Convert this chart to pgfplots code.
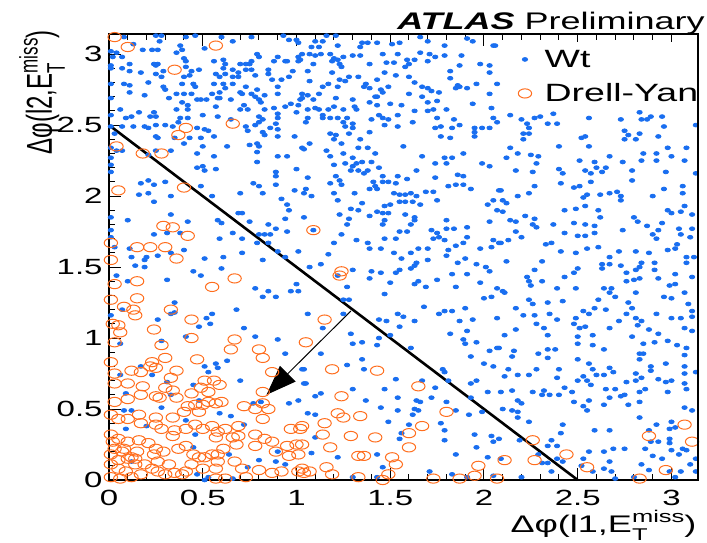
\documentclass[border=0pt]{standalone}
\usepackage{pgfplots}
\pgfplotsset{compat=1.18}
\usetikzlibrary{arrows.meta}
\usepackage{fontspec}
\setmainfont{Liberation Sans}[FakeStretch=1.5]
\newfontfamily\plainsans{Liberation Sans}
\definecolor{wtblue}{RGB}{25,110,240}
\definecolor{dyorange}{RGB}{255,110,30}
\newcommand{\etmiss}{E\rlap{\raisebox{-0.36em}{\fontsize{8.5}{9}\selectfont T}}\raisebox{0.4em}{\fontsize{8.5}{9}\selectfont miss}}
\begin{document}
\begin{tikzpicture}
\path[use as bounding box] (-54.5pt,-31pt) rectangle (299pt,240pt);
\begin{axis}[
  scale only axis, width=294.5pt, height=223pt,
  xmin=0, xmax=3.1416, ymin=0, ymax=3.1416,
  axis line style={line width=0.8pt},
  xtick={0,0.5,1,1.5,2,2.5,3}, ytick={0,0.5,1,1.5,2,2.5,3},
  minor tick num=4,
  tick align=inside,
  xtick pos=both, ytick pos=left,
  major tick length=6pt, minor tick length=3pt,
  every tick/.style={black, line width=0.5pt},
  /pgf/number format/assume math mode=true,
  ticklabel style={font=\fontsize{11}{11}\selectfont},
  xticklabel style={inner sep=0pt, anchor=north, yshift=-5pt},
  yticklabel style={inner sep=0pt, anchor=east, xshift=-3pt},
  xlabel={Δφ(l1,\etmiss)},
  ylabel={Δφ(l2,\etmiss)},
  xlabel style={font=\fontsize{12}{12}\selectfont, at={(axis description cs:0.998,-0.1166)}, anchor=base east, inner sep=0pt},
  ylabel style={font=\plainsans\fontsize{12}{12}\selectfont, at={(axis description cs:-0.0968,1.009)}, anchor=base east, inner sep=0pt, rotate=-90, xscale=1.5, rotate=90},
  legend style={at={(axis description cs:0.6942,0.982)}, anchor=north west, fill=white, draw=none, font=\fontsize{12.5}{12.5}\selectfont, inner xsep=0pt, inner ysep=0pt, row sep=0pt, nodes={inner ysep=2pt, inner xsep=6.5pt, text height=10.5pt, text depth=2.5pt}},
  legend cell align=left,
  clip=false,
]
\addplot[only marks, mark=*, mark size=0.95pt, color=wtblue, mark options={xscale=1.4, draw=wtblue, fill=wtblue}] coordinates {
(0.08,3.12) (0.25,3.13) (0.28,3.13) (0.27,3.09) (0.41,3.12) (0.46,3.13) (0.60,3.12) (0.66,3.09) (0.76,3.12) (0.93,3.13) (0.96,3.10) (1.00,3.10) (1.01,3.08) (0.13,3.07) (0.01,3.02) (0.04,3.01) (0.18,3.03) (0.23,3.03) (0.26,3.03) (0.38,3.06) (0.39,3.03) (0.36,3.01) (0.51,3.04) (0.79,3.00) (0.80,2.98) (0.90,2.98) (1.03,3.00) (0.02,2.98) (0.07,2.98)
(0.11,2.93) (0.24,2.93) (0.25,2.92) (0.26,2.93) (0.41,2.95) (0.40,2.97) (0.56,2.95) (0.61,2.96) (0.62,2.93) (0.70,2.93) (0.73,2.93) (0.75,2.93) (0.76,2.95) (0.88,2.95) (0.94,2.95) (0.95,2.95) (1.01,2.95) (1.01,2.98) (0.01,2.92) (0.01,2.90) (0.07,2.90) (0.11,2.88) (0.17,2.87) (0.25,2.86) (0.29,2.88) (0.41,2.91) (0.44,2.88) (0.48,2.89) (0.57,2.86) (0.61,2.90) (0.66,2.89) (0.69,2.87) (0.73,2.89) (0.76,2.89) (0.85,2.89) (0.98,2.88) (0.85,2.86)
(0.40,2.84) (0.43,2.85) (0.28,2.84) (0.59,2.84) (0.62,2.86) (0.66,2.84) (0.69,2.84) (0.78,2.85) (0.87,2.82) (0.92,2.82) (0.96,2.84) (0.01,2.79) (0.08,2.79) (0.11,2.78) (0.21,2.80) (0.29,2.77) (0.39,2.79) (0.45,2.79) (0.46,2.77) (0.56,2.79) (0.61,2.79) (0.62,2.76) (0.59,2.73) (0.66,2.79) (0.70,2.73) (0.73,2.77) (0.79,2.75) (0.90,2.77) (0.11,2.73) (0.30,2.75) (0.36,2.72) (0.40,2.72) (0.44,2.72) (0.55,2.72) (0.59,2.69) (0.71,2.72) (0.76,2.72) (0.78,2.70) (0.83,2.71) (0.90,2.72) (1.03,2.72)
(0.01,2.69) (0.19,2.71) (0.32,2.69) (0.39,2.66) (0.47,2.68) (0.49,2.68) (0.52,2.68) (0.58,2.69) (0.65,2.68) (0.80,2.68) (1.03,2.69) (0.97,2.65) (0.42,2.64) (0.57,2.63) (0.42,2.61) (0.72,2.64) (0.81,2.66) (0.94,2.63) (1.01,2.64) (0.16,2.59) (0.24,2.59) (0.06,2.61) (0.36,2.61) (0.70,2.61) (0.74,2.61) (0.83,2.61) (0.88,2.62) (0.01,2.57) (0.09,2.55) (0.12,2.56) (0.22,2.56) (0.25,2.56) (0.42,2.55) (0.38,2.55) (0.37,2.52) (0.50,2.57) (0.58,2.56) (0.65,2.54) (0.80,2.56) (0.82,2.54) (0.90,2.58) (0.90,2.55) (1.00,2.59) (0.80,2.52)
(0.01,2.49) (0.07,2.49) (0.13,2.49) (0.19,2.49) (0.21,2.48) (0.25,2.50) (0.30,2.50) (0.34,2.49) (0.47,2.48) (0.51,2.47) (0.53,2.46) (0.73,2.49) (0.74,2.46) (0.82,2.45) (0.86,2.48) (0.90,2.47) (0.78,2.50) (0.89,2.51) (0.03,2.44) (0.25,2.42) (0.26,2.41) (0.35,2.41) (0.43,2.41) (0.49,2.41) (0.56,2.42) (0.83,2.43) (0.90,2.42) (0.99,2.42) (0.40,2.37) (0.75,2.36) (0.79,2.37) (0.80,2.35) (1.03,2.34) (0.01,2.34) (0.04,2.32) (0.07,2.32) (0.25,2.32) (0.33,2.32) (0.50,2.35) (0.63,2.35) (0.79,2.31)
(0.01,2.27) (0.21,2.29) (0.47,2.30) (0.56,2.28) (0.90,2.28) (0.95,2.28) (0.01,2.22) (0.01,2.17) (0.47,2.20) (0.50,2.21) (0.51,2.18) (0.57,2.19) (0.79,2.24) (0.89,2.17) (1.00,2.19) (0.89,2.14) (0.17,2.09) (0.21,2.11) (0.24,2.08) (0.30,2.10) (0.49,2.07) (0.77,2.09) (0.80,2.07) (0.89,2.08) (0.16,2.01) (0.21,2.02) (0.33,2.00) (0.55,2.00) (0.70,2.02) (0.82,2.02) (0.99,2.04) (0.24,1.96) (0.92,1.98) (0.95,1.94)
(0.01,1.85) (0.10,1.83) (0.33,1.87) (0.42,1.82) (0.58,1.83) (0.60,1.81) (0.69,1.88) (0.71,1.88) (0.75,1.82) (0.85,1.80) (0.86,1.73) (0.94,1.84) (0.96,1.90) (1.04,1.85) (0.24,1.73) (0.31,1.74) (0.38,1.74) (0.59,1.70) (0.66,1.74) (0.71,1.70) (0.80,1.73) (0.83,1.73) (0.89,1.77) (0.95,1.75) (0.01,1.76) (0.01,1.71) (0.03,1.64) (0.11,1.63) (0.20,1.57) (0.26,1.58) (0.33,1.60) (0.40,1.62) (0.51,1.56) (0.61,1.57) (0.71,1.60) (0.79,1.67) (0.85,1.67) (0.90,1.61) (0.94,1.57) (1.01,1.61)
(1.16,3.13) (1.21,3.13) (1.10,3.09) (1.14,3.09) (1.22,3.06) (1.35,3.08) (1.38,3.08) (1.43,3.08) (1.51,3.07) (1.55,3.08) (1.66,3.12) (1.70,3.09) (1.79,3.06) (1.91,3.11) (1.94,3.09) (2.05,3.06) (1.08,3.05) (1.12,3.05) (1.34,3.05)
(1.07,3.00) (1.10,2.99) (1.13,3.00) (1.18,3.00) (1.20,2.97) (1.22,2.96) (1.25,2.98) (1.30,2.99) (1.34,2.99) (1.19,2.95) (1.23,2.93) (1.24,2.91) (1.02,2.96) (1.09,2.93) (1.46,3.00) (1.54,3.00) (1.59,2.96) (1.63,2.96) (1.60,2.93) (1.66,3.01) (1.71,3.00) (1.74,2.98) (1.70,2.95) (1.79,2.99) (1.88,2.99) (1.98,2.93) (2.03,2.92) (2.03,2.87) (1.39,2.93) (1.48,2.94) (1.52,2.94) (1.58,2.91) (1.82,2.88) (1.87,2.92) (1.06,2.88) (1.19,2.87) (1.47,2.87)
(1.28,2.84) (1.33,2.84) (1.23,2.82) (1.26,2.81) (1.37,2.79) (1.43,2.82) (1.53,2.85) (1.60,2.84) (1.63,2.80) (1.82,2.83) (1.86,2.78) (1.87,2.77) (1.91,2.76) (1.96,2.79) (2.07,2.79) (1.07,2.81) (1.14,2.77) (1.17,2.79) (1.22,2.77) (1.36,2.77) (1.39,2.76) (1.45,2.75) (1.49,2.77) (1.67,2.77) (1.70,2.76) (1.72,2.74) (1.76,2.73) (1.85,2.76) (1.60,2.72) (1.67,2.70) (1.12,2.72) (1.06,2.71) (1.42,2.70) (1.46,2.73) (2.03,2.72)
(1.02,2.68) (1.09,2.68) (1.21,2.69) (1.30,2.68) (1.39,2.66) (1.43,2.70) (1.50,2.65) (1.56,2.64) (1.43,2.64) (1.75,2.67) (1.70,2.66) (1.94,2.65) (1.06,2.61) (1.10,2.62) (1.12,2.61) (1.14,2.57) (1.17,2.61) (1.20,2.63) (1.25,2.61) (1.32,2.61) (1.27,2.55) (1.31,2.63) (1.44,2.57) (1.46,2.55) (1.49,2.54) (1.54,2.57) (1.63,2.60) (1.70,2.60) (1.73,2.61) (1.80,2.61) (1.84,2.54) (2.04,2.62) (1.06,2.55) (1.05,2.52) (1.14,2.55) (1.18,2.55) (1.22,2.55) (1.25,2.52) (1.40,2.54) (1.47,2.50) (1.54,2.49) (1.62,2.52) (1.75,2.55) (1.87,2.50) (2.05,2.55)
(1.26,2.49) (1.30,2.51) (1.30,2.48) (1.74,2.48) (1.77,2.49) (1.83,2.48) (1.95,2.48) (1.99,2.48) (2.03,2.48) (1.18,2.44) (1.21,2.43) (1.28,2.44) (1.39,2.45) (1.77,2.42) (1.82,2.41) (1.95,2.45) (1.95,2.42) (1.07,2.37) (1.04,2.33) (1.20,2.40) (1.24,2.37) (1.34,2.40) (1.33,2.34) (1.38,2.34) (1.57,2.35) (1.16,2.32)
(1.18,2.28) (1.25,2.30) (1.30,2.27) (1.42,2.30) (1.67,2.28) (1.79,2.27) (1.83,2.27) (1.89,2.30) (1.20,2.22) (1.26,2.23) (1.32,2.23) (1.35,2.24) (1.40,2.24) (1.30,2.21) (1.33,2.18) (1.29,2.18) (1.74,2.23) (1.80,2.23) (1.99,2.23) (2.03,2.21) (1.64,2.18) (1.36,2.16) (1.38,2.18) (1.44,2.20) (1.21,2.14) (1.23,2.11) (1.41,2.10) (1.46,2.14) (1.54,2.14) (1.59,2.12) (1.74,2.13) (1.86,2.15) (1.89,2.14) (1.06,2.13) (1.46,2.10) (1.49,2.10) (1.53,2.09)
(1.05,2.05) (1.18,2.09) (1.42,2.07) (1.39,2.05) (1.43,2.05) (1.24,2.08) (1.08,2.00) (1.04,2.02) (1.20,2.02) (1.31,2.02) (1.22,1.97) (1.35,1.95) (1.52,2.02) (1.55,2.01) (1.58,2.01) (1.61,2.02) (1.64,2.00) (1.69,2.03) (1.73,2.03) (1.81,2.07) (1.85,2.08) (1.89,2.08) (1.93,2.05) (2.08,2.04) (1.55,1.96) (1.58,1.96) (1.62,1.96) (1.47,1.93) (1.50,1.94) (1.66,1.94) (1.75,1.97) (2.02,1.94) (2.05,1.97)
(1.29,1.91) (1.33,1.90) (1.23,1.87) (1.39,1.86) (1.43,1.89) (1.46,1.88) (1.49,1.88) (1.58,1.87) (1.63,1.85) (1.63,1.83) (1.61,1.80) (1.47,1.83) (1.46,1.80) (1.27,1.80) (1.28,1.84) (1.80,1.83) (2.03,1.82) (2.07,1.90) (1.09,1.76) (1.24,1.73) (1.55,1.75) (1.59,1.75) (1.72,1.76) (1.75,1.74) (1.80,1.77) (1.84,1.77) (1.91,1.78) (1.76,1.71)
(1.20,1.67) (1.32,1.69) (1.38,1.67) (1.47,1.70) (1.53,1.70) (1.73,1.70) (1.79,1.69) (1.89,1.67) (1.91,1.71) (2.05,1.69) (2.08,1.67) (1.39,1.63) (1.45,1.63) (1.65,1.63) (1.70,1.63) (1.81,1.62) (1.85,1.65) (1.98,1.63) (2.04,1.64) (1.17,1.59) (1.52,1.60) (1.61,1.60) (1.56,1.56) (1.70,1.55) (1.80,1.58) (1.90,1.56)
(2.06,3.06) (2.07,2.52) (2.14,2.57) (2.20,2.54) (2.23,2.51) (2.24,2.48) (2.27,2.55) (2.30,2.56) (2.34,2.51) (2.37,2.58) (2.39,2.51) (2.56,2.55) (2.73,2.54) (2.83,2.59) (2.84,2.54) (2.87,2.54) (2.89,2.56) (2.95,2.56) (2.96,2.49) (3.13,2.50)
(2.21,2.44) (2.24,2.44) (2.21,2.40) (2.52,2.41) (2.54,2.42) (2.75,2.46) (2.75,2.40) (2.77,2.43) (2.81,2.40) (2.83,2.44) (2.93,2.42) (2.14,2.34) (2.40,2.35) (2.56,2.35) (3.08,2.34) (2.98,2.34)
(2.12,2.27) (2.18,2.30) (2.25,2.29) (2.29,2.28) (2.28,2.23) (2.51,2.25) (2.59,2.24) (2.67,2.28) (2.74,2.24) (2.85,2.30) (2.92,2.30) (2.92,2.25) (3.00,2.28) (2.84,2.25) (3.07,2.25)
(2.17,2.18) (2.26,2.17) (2.40,2.19) (2.42,2.16) (2.54,2.18) (2.57,2.16) (2.60,2.20) (2.65,2.20) (2.63,2.17) (2.79,2.18) (2.97,2.17) (3.13,2.16)
(2.41,2.09) (2.27,2.07) (2.09,2.04) (2.24,2.02) (2.18,2.00) (2.48,2.06) (2.51,2.07) (2.57,2.10) (2.55,2.01) (2.62,2.01) (2.67,2.02) (2.71,2.03) (2.73,2.00) (2.79,2.11) (2.90,2.00) (2.96,2.05) (3.06,2.07) (3.06,2.02)
(2.10,1.97) (2.12,1.95) (2.53,1.99) (2.73,1.97) (2.43,1.90) (2.49,1.91) (2.54,1.93) (2.61,1.90) (2.62,1.85) (2.98,1.90) (3.00,1.88) (3.05,1.89) (3.07,1.93) (3.11,1.87) (2.80,1.85) (2.10,1.89) (2.27,1.84) (2.22,1.86) (2.14,1.83) (2.17,1.82) (2.26,1.80) (2.28,1.78) (2.37,1.80) (2.48,1.81) (2.54,1.80) (2.59,1.79) (2.82,1.82) (2.87,1.79) (2.95,1.81) (3.04,1.77) (3.11,1.77)
(2.17,1.75) (2.20,1.71) (2.43,1.74) (2.50,1.72) (2.54,1.72) (2.59,1.74) (2.74,1.76) (2.90,1.73) (2.93,1.76) (2.92,1.70) (3.05,1.73) (3.10,1.71) (2.09,1.67) (2.13,1.69) (2.33,1.66) (2.36,1.67) (2.41,1.61) (2.49,1.60) (2.55,1.63) (2.61,1.64) (2.67,1.57) (2.72,1.61) (2.81,1.61) (2.88,1.60) (2.98,1.62) (3.02,1.63) (3.03,1.66) (3.08,1.57)
(0.12,1.57) (0.19,1.55) (0.60,1.49) (0.82,1.55) (0.14,1.51) (0.19,1.50) (0.04,1.44) (0.10,1.40) (0.31,1.41) (0.45,1.47) (0.49,1.44) (0.78,1.35) (0.82,1.29) (0.85,1.33) (0.89,1.29) (0.97,1.33) (1.00,1.38) (1.01,1.33) (0.35,1.25) (0.07,1.20) (0.01,1.16) (0.33,1.17) (0.35,1.18) (0.26,1.13) (0.52,1.14) (0.55,1.17) (0.54,1.10) (0.48,1.08) (0.68,1.20) (0.72,1.07) (0.78,1.01) (0.90,0.99) (0.41,1.01) (0.28,0.98) (0.06,0.96)
(0.94,0.89) (0.63,0.84) (0.51,0.80) (0.57,0.82) (0.58,0.79) (0.53,0.76) (0.17,0.80) (0.23,0.74) (0.06,0.74) (0.70,0.70) (0.31,0.69) (0.45,0.67) (0.33,0.60) (0.09,0.61) (0.48,0.56) (0.77,0.54) (0.81,0.55) (0.96,0.54) (1.01,0.56) (1.04,0.68) (1.03,0.78) (0.08,0.49) (0.12,0.49) (0.28,0.51) (0.59,0.47) (0.65,0.45) (0.41,0.42) (0.72,0.39) (0.20,0.38) (0.09,0.36) (0.46,0.32) (0.45,0.23) (0.64,0.18) (0.90,0.20) (0.12,0.13) (0.80,0.14) (0.74,0.09) (0.89,0.13) (0.47,0.04) (0.51,0.00) (0.66,0.01) (0.94,0.11) (0.53,0.02)
(1.07,1.50) (1.13,1.52) (1.30,1.48) (1.40,1.47) (1.45,1.46) (1.53,1.46) (1.55,1.48) (1.61,1.49) (1.63,1.51) (1.64,1.53) (1.86,1.53) (1.96,1.52) (2.01,1.50) (1.22,1.44) (1.39,1.42) (1.50,1.39) (1.63,1.38) (1.65,1.40) (1.69,1.36) (1.75,1.41) (1.83,1.45) (1.85,1.36) (1.91,1.45) (1.98,1.39) (2.03,1.47) (1.27,1.36) (1.25,1.27) (1.28,1.27) (1.47,1.31) (1.68,1.22) (1.76,1.17) (1.79,1.19) (1.83,1.19) (1.90,1.21) (2.00,1.28) (2.04,1.29)
(1.06,1.17) (1.25,1.17) (1.44,1.13) (1.48,1.12) (1.54,1.17) (1.57,1.15) (1.63,1.12) (1.55,1.08) (1.87,1.12) (1.94,1.13) (1.14,1.07) (1.29,1.03) (1.30,0.96) (1.35,0.97) (1.43,0.95) (1.44,1.00) (1.50,1.02) (1.61,0.93) (1.82,1.03) (1.89,0.99) (1.90,0.96) (1.91,1.05) (1.96,0.97) (2.03,0.91) (2.07,0.93) (1.13,0.89) (1.04,0.78) (1.27,0.81) (1.35,0.85) (1.36,0.78) (1.93,0.87) (2.00,0.82) (2.05,0.80) (1.78,0.78) (1.79,0.76) (1.53,0.71)
(1.05,0.68) (1.30,0.64) (1.47,0.64) (1.67,0.70) (1.74,0.65) (1.81,0.70) (1.93,0.68) (1.96,0.70) (2.02,0.62) (2.09,0.62) (1.10,0.59) (1.13,0.61) (1.37,0.56) (1.54,0.58) (1.64,0.56) (1.66,0.55) (1.72,0.58) (1.80,0.55) (1.93,0.58) (1.06,0.47) (1.10,0.46) (1.45,0.51) (1.54,0.49) (1.63,0.50) (1.65,0.49) (1.62,0.46) (1.85,0.49) (1.92,0.46) (1.99,0.48) (1.49,0.41) (1.60,0.39) (1.77,0.40) (1.79,0.35) (1.95,0.32) (2.04,0.31) (2.05,0.27)
(1.10,0.30) (1.55,0.29) (1.56,0.33) (1.79,0.28) (1.96,0.23) (1.08,0.19) (1.22,0.16) (1.43,0.18) (1.85,0.18) (2.02,0.16) (2.09,0.15) (1.46,0.09) (1.71,0.06) (1.30,0.02) (1.43,0.02) (1.83,0.04) (1.91,0.02) (2.05,0.03)
(2.12,1.54) (2.31,1.54) (2.50,1.49) (2.48,1.46) (2.63,1.52) (2.67,1.52) (2.63,1.49) (2.73,1.51) (2.76,1.46) (2.81,1.48) (2.83,1.50) (2.84,1.53) (2.91,1.53) (2.91,1.48) (2.93,1.42) (3.08,1.53) (3.12,1.57) (2.27,1.48) (2.23,1.43) (2.24,1.40) (2.25,1.37) (2.31,1.40) (2.43,1.43) (2.07,1.35) (2.10,1.33) (2.11,1.32) (2.39,1.35) (2.49,1.35) (2.64,1.35) (2.68,1.35) (2.67,1.32) (2.70,1.29) (2.76,1.40) (2.80,1.41) (2.83,1.42) (2.81,1.32) (3.02,1.45) (3.02,1.38) (2.99,1.37) (3.07,1.32) (3.11,1.43) (3.09,1.24) (3.11,1.19) (3.11,1.15) (2.96,1.29) (3.00,1.28)
(2.24,1.27) (2.26,1.24) (2.34,1.25) (2.42,1.26) (2.17,1.21) (2.07,1.14) (2.21,1.16) (2.27,1.16) (2.35,1.17) (2.39,1.13) (2.28,1.10) (2.32,1.07) (2.17,1.06) (2.49,1.14) (2.48,1.10) (2.51,1.07) (2.54,1.08) (2.53,1.19) (2.56,1.17) (2.59,1.21) (2.61,1.27) (2.65,1.20) (2.72,1.12) (2.76,1.17) (2.77,1.25) (2.79,1.21) (2.81,1.14) (2.82,1.09) (2.84,1.12) (2.88,1.06) (2.92,1.17) (2.93,1.03) (3.00,1.14) (3.05,1.14) (3.07,1.07)
(2.11,1.02) (2.34,1.02) (2.50,1.01) (2.58,1.02) (2.67,1.07) (2.79,1.01) (2.85,0.96) (2.85,0.89) (2.91,0.97) (2.98,0.98) (3.03,0.95) (3.08,0.93) (3.07,0.88) (3.11,1.05) (2.08,0.93) (2.16,0.91) (2.34,0.92) (2.38,0.92) (2.50,0.96) (2.58,0.95) (2.29,0.89) (2.15,0.87) (2.34,0.86) (2.50,0.85) (2.56,0.82) (2.58,0.78) (2.64,0.92) (2.67,0.79) (2.83,0.89) (2.83,0.85) (2.89,0.80) (2.97,0.82) (3.07,0.80)
(2.13,0.78) (2.11,0.73) (2.18,0.74) (2.24,0.74) (2.28,0.78) (2.40,0.78) (2.39,0.72) (2.53,0.73) (2.55,0.70) (2.57,0.67) (2.50,0.70) (2.60,0.74) (2.64,0.74) (2.69,0.76) (2.76,0.69) (2.81,0.75) (2.81,0.70) (2.84,0.72) (2.89,0.77) (2.93,0.71) (2.97,0.69) (3.00,0.70) (3.07,0.75) (3.07,0.68) (3.13,0.76) (3.08,0.64)
(2.15,0.63) (2.26,0.62) (2.31,0.60) (2.32,0.63) (2.35,0.60) (2.40,0.60) (2.43,0.65) (2.47,0.62) (2.65,0.64) (2.67,0.58) (2.70,0.64) (2.73,0.59) (2.75,0.60) (2.83,0.62) (2.86,0.64) (2.98,0.62) (2.18,0.56) (2.20,0.54) (2.10,0.50) (2.15,0.49) (2.18,0.48) (2.18,0.44) (2.24,0.41) (2.48,0.55) (2.53,0.52) (2.56,0.56) (2.55,0.49) (2.64,0.53) (2.77,0.53) (2.83,0.55) (2.83,0.44) (2.92,0.39) (2.99,0.36) (3.00,0.41) (3.02,0.37) (3.07,0.51) (3.11,0.49)
(2.42,0.39) (2.59,0.35) (2.67,0.35) (2.88,0.35) (2.89,0.27) (2.93,0.27) (2.99,0.29) (2.99,0.26) (3.00,0.21) (3.06,0.22) (3.04,0.18) (3.13,0.15) (3.08,0.21) (2.95,0.15) (2.90,0.17) (2.86,0.22) (2.84,0.11) (2.88,0.07) (2.75,0.22) (2.69,0.22) (2.64,0.20) (2.67,0.13) (2.64,0.08) (2.56,0.20) (2.53,0.15) (2.52,0.10) (2.58,0.06) (2.39,0.15) (2.42,0.13) (2.34,0.12) (2.31,0.12) (2.34,0.24) (2.36,0.28) (2.39,0.24) (2.41,0.33) (2.36,0.06) (2.19,0.28) (2.08,0.29) (2.29,0.18) (3.05,0.06) (3.10,0.11) (2.99,0.06) (3.02,0.02) (2.68,0.06) (2.20,0.02) (2.70,0.01) (2.80,0.02) (3.13,0.06)
};
\addlegendentry{\fontsize{12.5}{12.5}\selectfont Wt}
\addplot[only marks, mark=o, mark size=2.3pt, color=dyorange, mark options={xscale=1.45, line width=0.5pt}] coordinates {
(0.03,3.12) (0.10,3.05) (0.57,3.06) (0.35,2.89) (0.66,2.51) (0.41,2.48) (0.37,2.43) (0.04,2.35) (0.18,2.30) (0.28,2.30) (0.40,2.06) (0.05,2.04) (0.29,1.79) (0.34,1.78) (0.42,1.72) (0.01,1.67) (0.15,1.64) (0.22,1.64) (0.30,1.64) (0.36,1.56) (0.01,1.55) (1.09,1.76)
(0.67,1.42) (0.55,1.36) (0.15,1.40) (0.03,1.38) (0.01,1.27) (0.15,1.28) (0.08,1.22) (0.13,1.20) (0.14,1.16) (0.33,1.20) (0.44,1.13) (0.24,1.06) (0.05,1.09) (0.06,1.04) (0.02,1.10) (0.44,1.00) (0.67,0.99) (0.65,0.92) (0.03,0.97) (0.28,0.95) (0.47,0.85) (0.30,0.86) (0.23,0.83) (0.22,0.80) (0.25,0.79) (0.17,0.76) (0.12,0.77) (0.01,0.83) (0.03,0.75) (0.36,0.77) (0.33,0.72) (0.51,0.70) (0.59,0.67) (0.56,0.70) (0.82,0.86) (0.87,0.76) (0.80,0.92)
(0.03,0.68) (0.10,0.68) (0.18,0.66) (0.17,0.60) (0.25,0.59) (0.27,0.58) (0.36,0.58) (0.30,0.65) (0.34,0.63) (0.44,0.61) (0.49,0.65) (0.53,0.62) (0.60,0.55) (0.57,0.54) (0.53,0.55) (0.50,0.53) (0.46,0.53) (0.42,0.52) (0.40,0.48) (0.48,0.48) (0.03,0.55) (0.10,0.57) (0.72,0.52) (0.78,0.50) (0.82,0.62) (0.82,0.43) (0.82,0.54) (0.85,0.50)
(0.01,0.46) (0.05,0.43) (0.10,0.43) (0.16,0.46) (0.17,0.40) (0.34,0.44) (0.25,0.44) (0.25,0.39) (0.28,0.36) (0.46,0.39) (0.41,0.36) (0.35,0.35) (0.34,0.31) (0.50,0.36) (0.55,0.38) (0.58,0.34) (0.57,0.30) (0.62,0.36) (0.69,0.38) (0.69,0.31) (0.66,0.30) (0.78,0.32) (0.83,0.29) (0.87,0.27) (0.97,0.36) (1.02,0.36)
(0.01,0.32) (0.02,0.27) (0.05,0.29) (0.08,0.22) (0.10,0.27) (0.03,0.22) (0.07,0.20) (0.12,0.16) (0.15,0.20) (0.16,0.28) (0.21,0.26) (0.25,0.22) (0.24,0.18) (0.29,0.20) (0.26,0.13) (0.37,0.22) (0.41,0.24) (0.45,0.18) (0.48,0.16) (0.51,0.16) (0.55,0.18) (0.58,0.18) (0.61,0.22) (0.68,0.25) (0.78,0.24) (0.89,0.20) (0.95,0.24) (0.96,0.17) (1.00,0.25) (1.01,0.18)
(0.01,0.18) (0.05,0.14) (0.10,0.15) (0.14,0.15) (0.01,0.11) (0.05,0.08) (0.09,0.06) (0.14,0.11) (0.19,0.11) (0.23,0.08) (0.26,0.06) (0.32,0.11) (0.35,0.05) (0.41,0.06) (0.44,0.11) (0.50,0.08) (0.57,0.08) (0.58,0.13) (0.67,0.13) (0.71,0.08) (0.80,0.07) (0.87,0.05) (0.92,0.06) (1.01,0.06) (0.01,0.02) (0.06,0.01) (0.12,0.02) (0.17,0.04) (0.30,0.04) (0.39,0.04) (0.57,0.01) (0.62,0.01) (0.73,0.02)
(1.23,1.44) (1.24,1.47) (1.15,1.13) (1.05,0.97) (1.19,0.78) (1.43,0.77) (1.65,0.66) (1.24,0.59) (1.22,0.47) (1.25,0.44) (1.34,0.45) (1.15,0.40) (1.03,0.38) (1.14,0.32) (1.29,0.31) (1.42,0.30) (1.60,0.33) (1.67,0.38) (1.80,0.48) (1.18,0.23) (1.33,0.17) (1.36,0.17) (1.51,0.16) (1.53,0.11) (1.60,0.23) (1.03,0.25) (1.16,0.09) (1.03,0.08) (1.07,0.06) (1.19,0.04) (1.33,0.02) (1.46,0.00) (1.49,0.04) (1.73,0.01) (1.87,0.01) (1.95,0.03) (1.97,0.10) (1.04,0.05)
(2.26,0.28) (2.11,0.14) (2.27,0.14) (2.44,0.18) (2.55,0.09) (2.88,0.31) (3.07,0.39) (3.11,0.27) (2.97,0.07) (2.83,0.01) (2.07,0.01)
};
\addlegendentry{\fontsize{12.5}{12.5}\selectfont Drell-Yan}
\addplot[black, line width=1.3pt, forget plot] coordinates {(0,2.5) (2.5,0)};
\addplot[black, line width=0.5pt, -{Triangle[length=15pt,width=11pt]}, forget plot] coordinates {(1.29,1.19) (0.84,0.60)};
\node[anchor=base east, inner sep=0pt, font=\fontsize{12}{12}\selectfont] at (axis description cs:1.012,1.009) {\textbf{\textit{ATLAS}} Preliminary};
\end{axis}
\draw[line width=0.8pt] (current axis.north east) -- (current axis.south east);
\end{tikzpicture}
\end{document}
